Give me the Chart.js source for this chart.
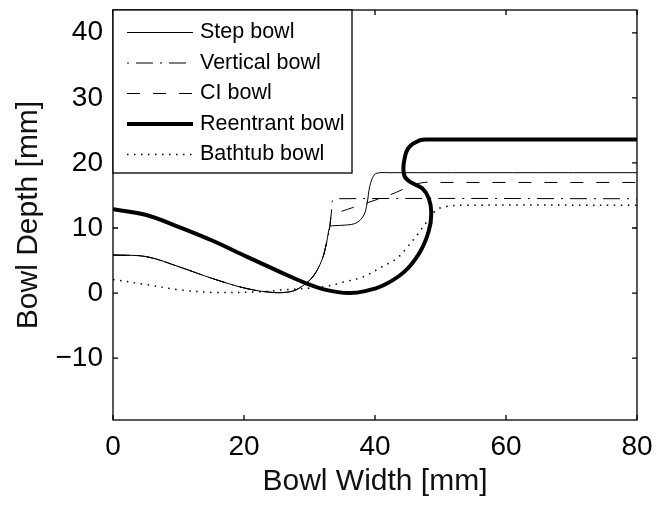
<!DOCTYPE html>
<html>
<head>
<meta charset="utf-8">
<script src="https://cdn.jsdelivr.net/npm/chart.js@4/dist/chart.umd.min.js"></script>
<style>
  html, body { margin: 0; padding: 0; background: #fff; }
  #wrap { width: 658px; height: 506px; }
</style>
</head>
<body>
<div id="wrap"><canvas id="bowls" width="658" height="506"></canvas></div>
<script>
// series labels
var seriesNames = ["Step bowl", "Vertical bowl", "CI bowl", "Reentrant bowl", "Bathtub bowl"];

// profiles (width mm, depth mm)
var stepX = [0, 5.1, 10.2, 15.3, 20.4, 24.4, 27, 28.5, 30.5, 31.9, 32.6, 33.1, 33.6, 35.5, 37.2, 38.3, 38.8, 39.2, 39.9, 40.8, 42, 80];
var stepY = [5.85, 5.6, 4.0, 2.2, 0.7, 0.1, 0.2, 0.8, 2.5, 5.1, 7.7, 10.2, 10.35, 10.45, 10.8, 12, 13.8, 16.4, 18.2, 18.5, 18.5, 18.5];

var vertX = [0, 5.1, 10.2, 15.3, 20.4, 24.4, 27, 28.5, 30.5, 31.9, 32.6, 33.1, 33.35, 33.5, 34.2, 80];
var vertY = [5.85, 5.6, 4.0, 2.2, 0.7, 0.1, 0.2, 0.8, 2.5, 5.1, 7.7, 10.2, 12.5, 14.2, 14.5, 14.5];

var ciX = [0, 5.1, 10.2, 15.3, 20.4, 24.4, 27, 28.5, 30.5, 31.9, 32.6, 33.1, 33.4, 34.7, 38, 41.5, 43.3, 45.5, 47.5, 50, 80];
var ciY = [5.85, 5.6, 4.0, 2.2, 0.7, 0.1, 0.2, 0.8, 2.5, 5.1, 7.7, 10.2, 12.0, 12.5, 13.6, 14.8, 15.5, 16.5, 17.0, 17.0, 17.0];

var reX = [0, 5.1, 10.2, 15.3, 20.4, 25.4, 29.5, 32.5, 36, 38.5, 41.3, 44.5, 46.8, 48.2, 48.6, 48.2, 47.2, 45.5, 44.5, 44.4, 45.1, 46.9, 48.4, 80];
var reY = [12.9, 12.0, 10.1, 8.0, 5.6, 3.3, 1.5, 0.5, 0.0, 0.3, 1.2, 3.3, 6.2, 9.5, 12.3, 14.6, 16.1, 17.0, 18.0, 20.0, 22.3, 23.5, 23.6, 23.6];

var bathX = [0, 5.1, 10.2, 15.3, 22.4, 26, 30.5, 32.9, 35.2, 38.2, 41, 43.3, 44.8, 46.4, 48.1, 49.4, 50.9, 53.5, 80];
var bathY = [2.1, 1.3, 0.5, 0.1, 0.2, 0.5, 0.8, 1.1, 1.7, 2.5, 4.0, 5.3, 6.9, 8.9, 11.2, 12.8, 13.3, 13.5, 13.5];

// axis ticks
var xTicks = [0, 20, 40, 60, 80];
var yTicks = [-10, 0, 10, 20, 30, 40];

var fontFamily = '"Liberation Sans", Arial, sans-serif';

function pts(xs, ys) {
    return xs.map(function(x, i) { return { x: x, y: ys[i] }; });
}

function line(label, xs, ys, width, dash, legendOffset) {
    return {
        label: label,
        data: pts(xs, ys),
        showLine: true,
        borderColor: '#000',
        backgroundColor: '#000',
        borderWidth: width,
        borderDash: dash,
        borderCapStyle: 'butt',
        pointRadius: 0,
        tension: 0.35,
        legendOffset: legendOffset || 0
    };
}

// box round the axes with inward ticks on every side
var framePlugin = {
    id: 'frame',
    afterDatasetsDraw: function(chart) {
        var ctx = chart.ctx, a = chart.chartArea;
        var xs = chart.scales.x, ys = chart.scales.y;
        var len = 5;
        ctx.save();
        ctx.strokeStyle = '#000';
        ctx.lineWidth = 1.3;
        ctx.setLineDash([]);
        ctx.strokeRect(a.left, a.top, a.right - a.left, a.bottom - a.top);
        ctx.beginPath();
        xTicks.forEach(function(v) {
            var px = xs.getPixelForValue(v);
            ctx.moveTo(px, a.bottom); ctx.lineTo(px, a.bottom - len);
            ctx.moveTo(px, a.top); ctx.lineTo(px, a.top + len);
        });
        yTicks.forEach(function(v) {
            var py = ys.getPixelForValue(v);
            ctx.moveTo(a.left, py); ctx.lineTo(a.left + len, py);
            ctx.moveTo(a.right, py); ctx.lineTo(a.right - len, py);
        });
        ctx.stroke();
        ctx.restore();
    }
};

// legend box in the upper left corner
var legendPlugin = {
    id: 'boxLegend',
    afterDraw: function(chart) {
        var ctx = chart.ctx, a = chart.chartArea;
        var left = a.left, top = a.top, w = 239, h = 163;
        ctx.save();
        ctx.fillStyle = '#fff';
        ctx.fillRect(left, top, w, h);
        ctx.strokeStyle = '#000';
        ctx.lineWidth = 1.3;
        ctx.setLineDash([]);
        ctx.strokeRect(left, top, w, h);
        ctx.font = '21.5px ' + fontFamily;
        ctx.textBaseline = 'middle';
        ctx.fillStyle = '#000';
        chart.data.datasets.forEach(function(ds, i) {
            var y = top + 22.5 + i * 30.5;
            ctx.beginPath();
            ctx.lineWidth = ds.borderWidth;
            ctx.lineCap = 'butt';
            ctx.setLineDash(ds.borderDash || []);
            ctx.lineDashOffset = ds.legendOffset;
            ctx.moveTo(left + 14, y);
            ctx.lineTo(left + 80, y);
            ctx.stroke();
            ctx.setLineDash([]);
            ctx.lineDashOffset = 0;
            ctx.fillText(ds.label, left + 87, y);
        });
        ctx.restore();
    }
};

var ctx = document.getElementById('bowls');
var myChart = new Chart(ctx, {
    type: 'scatter',
    data: {
        datasets: [
            line(seriesNames[0], stepX, stepY, 1, []),
            line(seriesNames[1], vertX, vertY, 1, [17, 7, 2, 7], 24),
            line(seriesNames[2], ciX, ciY, 1, [13, 13]),
            line(seriesNames[3], reX, reY, 4, []),
            line(seriesNames[4], bathX, bathY, 1.5, [1.5, 5.5])
        ]
    },
    options: {
        responsive: false,
        animation: false,
        devicePixelRatio: 1,
        layout: { padding: { top: 10, right: 21, left: 0, bottom: 0 } },
        plugins: {
            legend: { display: false },
            tooltip: { enabled: false }
        },
        scales: {
            x: {
                type: 'linear',
                min: 0,
                max: 80,
                grid: { display: false, drawTicks: false },
                border: { display: false },
                afterBuildTicks: function(scale) {
                    scale.ticks = xTicks.map(function(v) { return { value: v }; });
                },
                afterFit: function(scale) {
                    scale.height = 86;
                    scale.paddingLeft = 0;
                    scale.paddingRight = 0;
                },
                ticks: {
                    padding: 10,
                    maxRotation: 0,
                    color: '#000',
                    font: { family: fontFamily, size: 28 }
                },
                title: {
                    display: true,
                    text: 'Bowl Width [mm]',
                    color: '#111',
                    padding: { top: 0, bottom: 6 },
                    font: { family: fontFamily, size: 30 }
                }
            },
            y: {
                type: 'linear',
                min: -19.5,
                max: 43.5,
                grid: { display: false, drawTicks: false },
                border: { display: false },
                afterBuildTicks: function(scale) {
                    scale.ticks = yTicks.map(function(v) { return { value: v }; });
                },
                afterFit: function(scale) {
                    scale.width = 113;
                    scale.paddingTop = 0;
                    scale.paddingBottom = 0;
                },
                ticks: {
                    padding: 10,
                    color: '#000',
                    font: { family: fontFamily, size: 28 },
                    callback: function(v) { return v < 0 ? '\u2212' + Math.abs(v) : String(v); }
                },
                title: {
                    display: true,
                    text: 'Bowl Depth [mm]',
                    color: '#111',
                    padding: { top: 11, bottom: 0 },
                    font: { family: fontFamily, size: 30 }
                }
            }
        }
    },
    plugins: [framePlugin, legendPlugin]
});
</script>
</body>
</html>
